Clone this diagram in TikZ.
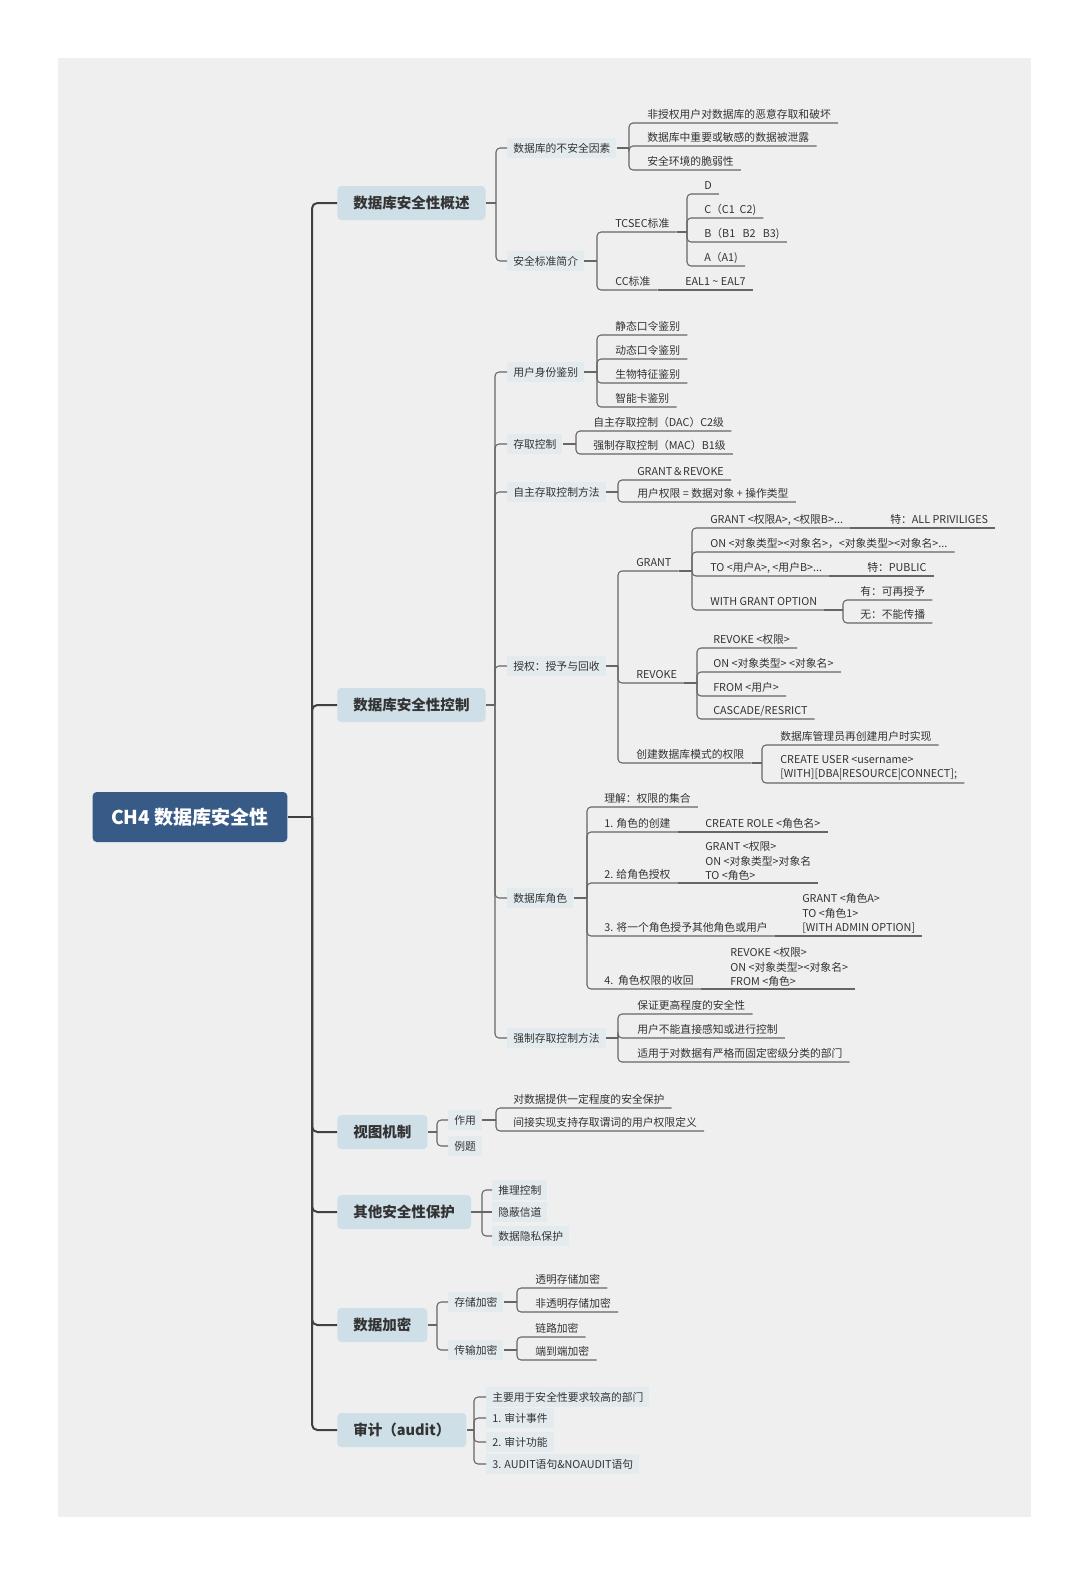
\documentclass[tikz,border=0pt]{standalone}
\usepackage{fontspec}
\setmainfont{Noto Sans CJK SC}
\definecolor{paper}{HTML}{EFEFEF}
\definecolor{rootblue}{HTML}{375A86}
\definecolor{boxblue}{HTML}{CEDFE7}
\definecolor{tagblue}{HTML}{E3EBEF}
\definecolor{ink}{HTML}{333333}
\definecolor{wire}{HTML}{666666}
\definecolor{trunkc}{HTML}{404040}
\newcommand\fork[5][link]{%
  \coordinate (#2-j) at (#4,0|-#2.#3);
  \draw[#1] (#2.#3) -- (#2-j);
  \foreach \c in {#5} \draw[#1] (#2-j) |- (\c);
}
\newcommand\tie[2]{\draw[link] (#1.south east) -- (#2.south east);}

\begin{document}
\begin{tikzpicture}[x=0.75pt,y=-0.75pt]
   \tikzstyle{link}=[draw=wire, line width=0.8pt, rounded corners=3pt]
   \tikzstyle{trunk}=[draw=trunkc, line width=1.5pt, rounded corners=4pt]
   \tikzstyle{root}=[fill=rootblue, rounded corners=3pt, minimum width=146pt, minimum height=37.5pt, text=white, font=\fontsize{14.3}{17}\selectfont\bfseries]
   \tikzstyle{mainbox}=[fill=boxblue, rounded corners=3pt, anchor=west, minimum height=25.5pt, inner xsep=12pt, text=ink, font=\fontsize{10.9}{13}\selectfont\bfseries]
   \tikzstyle{tag}=[fill=tagblue, anchor=west, minimum height=15pt, inner xsep=4.5pt, text=ink, font=\fontsize{8.1}{10.9}\selectfont]
   \tikzstyle{leaf}=[anchor=south west, xshift=-5.25pt, inner xsep=5.25pt, inner ysep=1.5pt, text depth=0.2em, text=ink, font=\fontsize{8.1}{10.9}\selectfont]
   \tikzstyle{leafm}=[leaf, text depth=, align=left]

\fill[white] (0,0) rectangle (1088,1575);
\fill[paper] (58,58) rectangle (1031,1517);

\node[root] (root) at (190,817) {CH4 数据库安全性};
\node[mainbox] (m1) at (337,203) {数据库安全性概述};
\node[mainbox] (m2) at (337,705) {数据库安全性控制};
\node[mainbox] (m3) at (337,1132) {视图机制};
\node[mainbox] (m4) at (337,1212) {其他安全性保护};
\node[mainbox] (m5) at (337,1325) {数据加密};
\node[mainbox] (m6) at (337,1430) {审计（audit）};

\node[tag] (a1) at (507,148) {数据库的不安全因素};
\node[tag] (a2) at (507,261) {安全标准简介};
\node[leaf] (a11) at (647,123) {非授权用户对数据库的恶意存取和破坏};
\node[leaf] (a12) at (647,146) {数据库中重要或敏感的数据被泄露};
\node[leaf] (a13) at (647,170) {安全环境的脆弱性};
\node[leaf] (a21) at (615,232) {TCSEC标准};
\node[leaf] (a22) at (615,290) {CC标准};
\node[leaf] (a211) at (704,194) {D};
\node[leaf] (a212) at (704,218) {C（C1\ \ C2)};
\node[leaf] (a213) at (704,242) {B（B1\ \ \ B2\ \ \ B3)};
\node[leaf] (a214) at (704,266) {A（A1)};
\node[leaf] (a221) at (685,290) {EAL1 \textasciitilde{} EAL7};

\node[tag] (b1) at (507,372) {用户身份鉴别};
\node[tag] (b2) at (507,444) {存取控制};
\node[tag] (b3) at (507,492) {自主存取控制方法};
\node[tag] (b4) at (507,666) {授权：授予与回收};
\node[tag] (b5) at (507,898) {数据库角色};
\node[tag] (b6) at (507,1038) {强制存取控制方法};
\node[leaf] (b11) at (615,335) {静态口令鉴别};
\node[leaf] (b12) at (615,359) {动态口令鉴别};
\node[leaf] (b13) at (615,383) {生物特征鉴别};
\node[leaf] (b14) at (615,407) {智能卡鉴别};
\node[leaf] (b21) at (593,431) {自主存取控制（DAC）C2级};
\node[leaf] (b22) at (593,454) {强制存取控制（MAC）B1级};
\node[leaf] (b31) at (637,480) {GRANT＆REVOKE};
\node[leaf] (b32) at (637,502) {用户权限 = 数据对象 + 操作类型};
\node[leaf] (b41) at (636,571) {GRANT};
\node[leaf] (b42) at (636,683) {REVOKE};
\node[leaf] (b43) at (636,763) {创建数据库模式的权限};
\node[leaf] (b411) at (710,528) {GRANT <权限A>, <权限B>...};
\node[leaf] (b4111) at (890,528) {特：ALL PRIVILIGES};
\node[leaf] (b412) at (710,552) {ON <对象类型><对象名>，<对象类型><对象名>...};
\node[leaf] (b413) at (710,576) {TO <用户A>, <用户B>...};
\node[leaf] (b4131) at (867,576) {特：PUBLIC};
\node[leaf] (b414) at (710,610) {WITH GRANT OPTION};
\node[leaf] (b4141) at (860,600) {有：可再授予};
\node[leaf] (b4142) at (860,623) {无：不能传播};
\node[leaf] (b421) at (713,648) {REVOKE <权限>};
\node[leaf] (b422) at (713,672) {ON <对象类型> <对象名>};
\node[leaf] (b423) at (713,696) {FROM <用户>};
\node[leaf] (b424) at (713,719) {CASCADE/RESRICT};
\node[leaf] (b431) at (780,745) {数据库管理员再创建用户时实现};
\node[leafm] (b432) at (780,783) {CREATE USER <username>\\{[}WITH{]}{[}DBA|RESOURCE|CONNECT{]};};
\node[leaf] (b51) at (604,807) {理解：权限的集合};
\node[leaf] (b52) at (604,832) {1. 角色的创建};
\node[leaf] (b521) at (705,832) {CREATE ROLE <角色名>};
\node[leaf] (b53) at (604,883) {2. 给角色授权};
\node[leafm] (b531) at (705,883) {GRANT <权限>\\ON <对象类型>对象名\\TO <角色>};
\node[leaf] (b54) at (604,936) {3. 将一个角色授予其他角色或用户};
\node[leafm] (b541) at (802,936) {GRANT <角色A>\\TO <角色1>\\{[}WITH ADMIN OPTION{]}};
\node[leaf] (b55) at (604,989) {4.\ \ 角色权限的收回};
\node[leafm] (b551) at (730,989) {REVOKE <权限>\\ON <对象类型><对象名>\\FROM <角色>};
\node[leaf] (b61) at (637,1014) {保证更高程度的安全性};
\node[leaf] (b62) at (637,1038) {用户不能直接感知或进行控制};
\node[leaf] (b63) at (637,1062) {适用于对数据有严格而固定密级分类的部门};

\node[tag] (c1) at (448,1120) {作用};
\node[tag] (c2) at (448,1146) {例题};
\node[leaf] (c11) at (513,1108) {对数据提供一定程度的安全保护};
\node[leaf] (c12) at (513,1131) {间接实现支持存取谓词的用户权限定义};

\node[tag] (d1) at (492,1190) {推理控制};
\node[tag] (d2) at (492,1212) {隐蔽信道};
\node[tag] (d3) at (492,1236) {数据隐私保护};

\node[tag] (e1) at (448,1302) {存储加密};
\node[tag] (e2) at (448,1350) {传输加密};
\node[leaf] (e11) at (535,1288) {透明存储加密};
\node[leaf] (e12) at (535,1312) {非透明存储加密};
\node[leaf] (e21) at (535,1337) {链路加密};
\node[leaf] (e22) at (535,1360) {端到端加密};

\node[tag] (f1) at (486,1397) {主要用于安全性要求较高的部门};
\node[tag] (f2) at (486,1418) {1. 审计事件};
\node[tag] (f3) at (486,1442) {2. 审计功能};
\node[tag] (f4) at (486,1464) {3. AUDIT语句\&NOAUDIT语句};

\fork[trunk]{root}{east}{312}{m1.west,m2.west,m3.west,m4.west,m5.west,m6.west}
\fork{m1}{east}{496}{a1.west,a2.west}
\fork{a1}{east}{629}{a11.south east,a12.south east,a13.south east}
\fork{a2}{east}{597}{a21.south east,a22.south east}
\fork{a21}{south east}{687}{a211.south east,a212.south east,a213.south east,a214.south east}
\tie{a22}{a221}
\fork{m2}{east}{495}{b1.west,b2.west,b3.west,b4.west,b5.west,b6.west}
\fork{b1}{east}{597}{b11.south east,b12.south east,b13.south east,b14.south east}
\fork{b2}{east}{576}{b21.south east,b22.south east}
\fork{b3}{east}{618}{b31.south east,b32.south east}
\fork{b4}{east}{618}{b41.south east,b42.south east,b43.south east}
\fork{b41}{south east}{692}{b411.south east,b412.south east,b413.south east,b414.south east}
\tie{b411}{b4111}
\tie{b413}{b4131}
\fork{b414}{south east}{843}{b4141.south east,b4142.south east}
\fork{b42}{south east}{697}{b421.south east,b422.south east,b423.south east,b424.south east}
\fork{b43}{south east}{762}{b431.south east,b432.south east}
\fork{b5}{east}{587}{b51.south east,b52.south east,b53.south east,b54.south east,b55.south east}
\tie{b52}{b521}
\tie{b53}{b531}
\tie{b54}{b541}
\tie{b55}{b551}
\fork{b6}{east}{618}{b61.south east,b62.south east,b63.south east}
\fork{m3}{east}{437}{c1.west,c2.west}
\fork{c1}{east}{496}{c11.south east,c12.south east}
\fork{m4}{east}{482}{d1.west,d3.west}
\draw[link] (m4.east) -- (d2.west);
\fork{m5}{east}{437}{e1.west,e2.west}
\fork{e1}{east}{517}{e11.south east,e12.south east}
\fork{e2}{east}{517}{e21.south east,e22.south east}
\fork{m6}{east}{474}{f1.west,f2.west,f3.west,f4.west}

\end{tikzpicture}
\end{document}
